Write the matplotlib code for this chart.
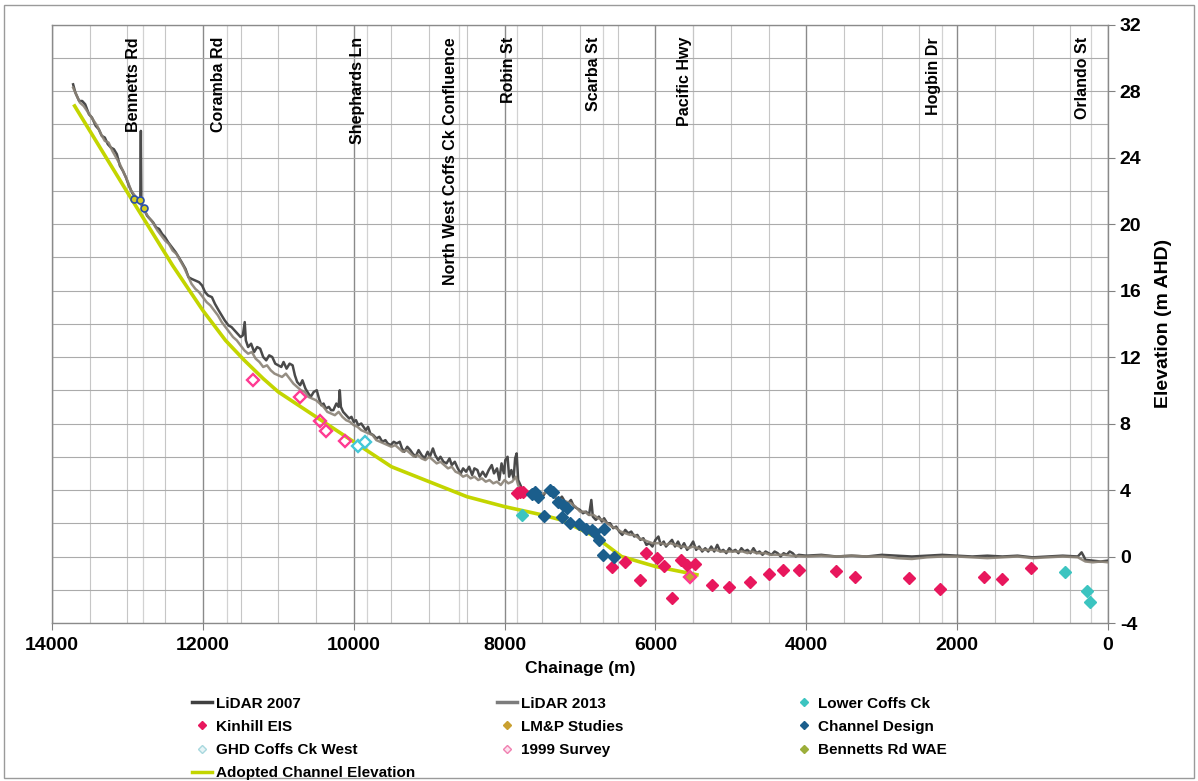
import matplotlib
matplotlib.use('Agg')
import matplotlib.pyplot as plt
from matplotlib.lines import Line2D
from matplotlib.patches import Rectangle
from matplotlib.ticker import MultipleLocator

plt.rcParams['font.family'] = ['Liberation Sans', 'DejaVu Sans']
plt.rcParams['axes.unicode_minus'] = False

# ------------------ DATA ------------------

# LiDAR 2007 long section (chainage m, elevation m AHD)
lidar07_ch = [13720, 13690, 13640, 13600, 13560, 13510, 13470, 13420, 13380, 13340,
              13300, 13260, 13220, 13180, 13140, 13100, 13060, 13020, 12980, 12940,
              12900, 12860, 12830, 12822, 12815, 12780, 12740, 12700, 12660, 12620,
              12580, 12540, 12500, 12460, 12410, 12360, 12320, 12280, 12230, 12190,
              12150, 12100, 12050, 12010, 11970, 11930, 11880, 11840, 11790, 11750,
              11710, 11660, 11620, 11580, 11540, 11500, 11470, 11445, 11430, 11400,
              11360, 11320, 11280, 11240, 11200, 11160, 11120, 11080, 11040, 11000,
              10960, 10930, 10890, 10850, 10810, 10780, 10750, 10710, 10680, 10640,
              10600, 10570, 10530, 10490, 10460, 10430, 10400, 10370, 10330, 10300,
              10270, 10230, 10200, 10185, 10170, 10140, 10100, 10060, 10030, 10000,
              9970, 9940, 9900, 9870, 9840, 9810, 9780, 9740, 9700, 9660,
              9620, 9580, 9550, 9510, 9470, 9430, 9390, 9360, 9330, 9290,
              9250, 9220, 9180, 9140, 9100, 9060, 9020, 8990, 8950, 8920,
              8880, 8850, 8810, 8770, 8730, 8700, 8660, 8620, 8580, 8550,
              8510, 8470, 8430, 8400, 8360, 8330, 8290, 8250, 8210, 8170,
              8140, 8100, 8070, 8040, 8010, 7990, 7960, 7940, 7910, 7880,
              7860, 7840, 7820, 7790, 7760, 7720, 7680, 7640, 7600, 7560,
              7520, 7480, 7440, 7400, 7360, 7320, 7280, 7240, 7200, 7160,
              7120, 7080, 7040, 7000, 6960, 6920, 6880, 6850, 6830, 6790,
              6750, 6710, 6680, 6640, 6600, 6560, 6520, 6480, 6440, 6400,
              6360, 6320, 6280, 6240, 6200, 6160, 6120, 6080, 6040, 6000,
              5960, 5930, 5890, 5860, 5820, 5780, 5740, 5700, 5660, 5620,
              5580, 5540, 5500, 5460, 5420, 5380, 5340, 5300, 5260, 5220,
              5180, 5140, 5100, 5060, 5020, 4980, 4940, 4900, 4860, 4820,
              4780, 4740, 4700, 4660, 4620, 4580, 4540, 4500, 4460, 4420,
              4380, 4340, 4300, 4260, 4220, 4180, 4140, 4100, 4000, 3800,
              3600, 3400, 3200, 3000, 2800, 2600, 2400, 2200, 2000, 1800,
              1600, 1400, 1200, 1000, 800, 600, 400, 350, 320, 300,
              200, 100, 0]
lidar07_el = [28.4, 27.9, 27.4, 27.4, 27.2, 26.6, 26.4, 25.9, 25.7, 25.3,
              25.2, 24.8, 24.6, 24.5, 24.2, 23.5, 23.2, 22.8, 22.3, 21.9,
              21.6, 21.4, 21.3, 25.6, 21.2, 20.9, 20.5, 20.3, 20.1, 19.8,
              19.7, 19.4, 19.2, 18.9, 18.6, 18.3, 18.0, 17.7, 17.3, 16.8,
              16.7, 16.6, 16.5, 16.3, 15.9, 15.7, 15.6, 15.2, 14.8, 14.5,
              14.2, 13.9, 13.8, 13.6, 13.4, 13.2, 13.3, 14.1, 13.0, 12.6,
              12.8, 12.3, 12.6, 12.5, 12.0, 11.8, 12.1, 12.0, 11.6, 11.5,
              11.4, 11.7, 11.3, 11.6, 11.5, 10.9, 10.5, 10.3, 10.6, 10.1,
              9.8, 9.6, 9.9, 10.0, 9.5, 9.1, 9.2, 8.9, 9.0, 8.8,
              8.8, 9.2, 9.0, 10.0, 9.0, 8.7, 8.5, 8.3, 8.4, 8.1,
              8.2, 7.9, 8.0, 7.8, 7.6, 7.8, 7.4, 7.3, 7.1, 7.2,
              6.9, 7.0, 6.8, 6.7, 6.9, 6.8, 6.9, 6.5, 6.3, 6.6,
              6.4, 6.2, 6.0, 6.4, 6.1, 5.9, 6.3, 6.0, 6.5, 6.1,
              5.8, 6.0, 5.7, 5.6, 5.9, 5.5, 5.7, 5.3, 5.0, 5.3,
              5.1, 5.4, 4.9, 5.3, 5.2, 4.8, 5.1, 4.8, 5.2, 5.5,
              5.0, 5.3, 4.6, 5.6, 5.0, 5.8, 6.0, 4.8, 5.2, 4.7,
              5.9, 6.2, 4.6, 4.3, 4.0, 3.9, 3.8, 4.0, 3.7, 3.9,
              3.6, 3.7, 4.0, 3.8, 3.9, 3.5, 3.4, 3.6, 3.3, 3.2,
              3.4, 3.0, 2.9, 2.8, 2.6, 2.7, 2.5, 3.4, 2.4, 2.2,
              2.4, 2.1, 2.3, 2.0, 2.0, 1.7, 1.8, 1.5, 1.3, 1.6,
              1.4, 1.5, 1.2, 1.3, 1.0, 1.1, 0.7, 0.8, 0.6, 1.0,
              1.2, 0.7, 0.9, 0.6, 0.8, 1.0, 0.6, 0.9, 0.5, 0.8,
              0.4, 0.6, 0.9, 0.4, 0.6, 0.3, 0.5, 0.3, 0.6, 0.3,
              0.7, 0.3, 0.4, 0.2, 0.5, 0.3, 0.4, 0.2, 0.5, 0.3,
              0.4, 0.2, 0.5, 0.2, 0.3, 0.1, 0.3, 0.2, 0.1, 0.3,
              0.2, 0.0, 0.2, 0.1, 0.3, 0.2, 0.0, 0.1, 0.05, 0.1,
              0.0, 0.05, 0.0, 0.1, 0.05, 0.0, 0.05, 0.1, 0.05, 0.0,
              0.05, 0.0, 0.05, -0.05, 0.0, 0.05, 0.0, 0.25, 0.0, -0.2,
              -0.25, -0.3, -0.25]

# LiDAR 2013 long section
lidar13_ch = [13720, 13680, 13630, 13580, 13520, 13460, 13400, 13350, 13300, 13250,
              13200, 13150, 13100, 13050, 13000, 12950, 12900, 12850, 12800, 12760,
              12720, 12680, 12640, 12600, 12550, 12500, 12450, 12400, 12350, 12300,
              12250, 12200, 12150, 12100, 12050, 12000, 11950, 11900, 11850, 11800,
              11750, 11700, 11650, 11600, 11550, 11500, 11450, 11400, 11350, 11300,
              11250, 11200, 11150, 11100, 11050, 11000, 10950, 10900, 10850, 10800,
              10750, 10700, 10650, 10600, 10550, 10500, 10450, 10400, 10350, 10300,
              10250, 10200, 10150, 10100, 10050, 10000, 9950, 9900, 9850, 9800,
              9750, 9700, 9650, 9600, 9550, 9500, 9450, 9400, 9350, 9300,
              9250, 9200, 9150, 9100, 9050, 9000, 8950, 8900, 8850, 8800,
              8750, 8700, 8650, 8600, 8550, 8500, 8450, 8400, 8350, 8300,
              8250, 8200, 8150, 8100, 8050, 8000, 7950, 7900, 7850, 7820,
              7780, 7720, 7660, 7600, 7540, 7480, 7420, 7360, 7300, 7240,
              7180, 7120, 7060, 7000, 6940, 6880, 6820, 6760, 6700, 6640,
              6580, 6520, 6460, 6400, 6340, 6280, 6220, 6160, 6100, 6040,
              5980, 5920, 5860, 5800, 5740, 5680, 5620, 5560, 5500, 5440,
              5380, 5320, 5260, 5200, 5140, 5080, 5020, 4960, 4900, 4840,
              4780, 4720, 4660, 4600, 4540, 4480, 4420, 4360, 4300, 4200,
              4000, 3800, 3600, 3400, 3200, 3000, 2800, 2600, 2400, 2200,
              2000, 1800, 1600, 1400, 1200, 1000, 800, 600, 400, 300,
              200, 100, 0]
lidar13_el = [28.2, 27.8, 27.3, 27.1, 26.7, 26.3, 25.9, 25.4, 25.0, 24.9,
              24.4, 24.0, 23.6, 23.1, 22.6, 22.0, 21.7, 21.4, 21.0, 20.7,
              20.4, 20.2, 19.9, 19.6, 19.3, 19.0, 18.8, 18.4, 18.2, 17.8,
              17.4, 16.9, 16.4, 16.1, 15.9, 15.6, 15.3, 15.1, 14.8, 14.5,
              14.1, 13.8, 13.5, 13.2, 13.0, 12.7, 12.4, 12.2, 12.3, 11.9,
              11.7, 11.4, 11.5, 11.2, 11.0, 10.9, 10.8, 11.0, 10.7, 10.4,
              10.2, 10.0, 9.9, 9.6, 9.5, 9.4, 9.2, 9.0, 8.7, 8.6,
              8.5, 8.7, 8.4, 8.2, 8.1, 7.9, 7.8, 7.6, 7.5, 7.4,
              7.3, 7.0, 6.9, 6.8, 6.7, 6.6, 6.7, 6.5, 6.3, 6.4,
              6.2, 6.0, 6.1, 5.9, 5.8, 6.0, 5.8, 5.6, 5.7, 5.5,
              5.3, 5.4, 5.1, 5.0, 4.8, 4.9, 4.7, 4.8, 4.6, 4.7,
              4.5, 4.6, 4.4, 4.5, 4.3, 4.6, 4.4, 4.5, 4.8, 4.3,
              4.0, 3.8, 3.9, 3.8, 3.7, 3.8, 3.9, 3.7, 3.5, 3.4,
              3.3, 3.2, 3.0, 2.7, 2.7, 2.5, 2.5, 2.3, 2.2, 2.0,
              1.8, 1.7, 1.5, 1.4, 1.3, 1.3, 1.1, 1.0, 0.9, 0.8,
              0.8, 0.8, 0.7, 0.8, 0.7, 0.6, 0.6, 0.5, 0.6, 0.5,
              0.4, 0.4, 0.4, 0.4, 0.3, 0.3, 0.3, 0.3, 0.3, 0.3,
              0.2, 0.3, 0.2, 0.2, 0.2, 0.1, 0.1, 0.1, 0.1, 0.05,
              0.0, 0.05, 0.0, 0.05, 0.0, 0.0, -0.1, -0.15, -0.05, 0.0,
              0.0, -0.05, -0.1, -0.05, 0.0, -0.1, -0.05, 0.0, -0.05, -0.3,
              -0.35, -0.3, -0.35]

# Adopted channel elevation
adopted_ch = [13700, 13000, 12400, 12000, 11700, 11450, 11200, 11000, 10500, 10000,
              9500, 9000, 8500, 8000, 7500, 7250, 6800, 6450, 6000, 5450]
adopted_el = [27.1, 21.9, 17.5, 14.8, 13.0, 11.8, 10.7, 9.9, 8.4, 6.9,
              5.4, 4.5, 3.6, 3.0, 2.5, 2.2, 1.2, 0.0, -0.6, -1.1]

# survey points
kinhill_ch = [7830, 7790, 7760, 6576, 6403, 6204, 6125, 5979, 5886, 5780,
              5661, 5581, 5475, 5250, 5025, 4746, 4494, 4309, 4090, 3606,
              3354, 2638, 2227, 1644, 1405, 1021]
kinhill_el = [3.8, 3.9, 3.85, -0.66, -0.36, -1.44, 0.24, -0.12, -0.6, -2.52,
              -0.24, -0.54, -0.48, -1.74, -1.86, -1.56, -1.08, -0.84, -0.84, -0.9,
              -1.26, -1.32, -1.98, -1.26, -1.38, -0.72]

lmp_ch = [5542]
lmp_el = [-1.26]

channel_ch = [7636, 7597, 7557, 7398, 7358, 7291, 7225, 7172, 7477, 7239,
              7133, 7013, 6920, 6841, 6814, 6682, 6748, 6695, 6549]
channel_el = [3.73, 3.85, 3.6, 4.03, 3.85, 3.3, 3.1, 2.9, 2.46, 2.4,
              2.04, 1.98, 1.68, 1.62, 1.5, 1.68, 1.02, 0.12, 0.0]

lower_coffs_ch = [7769, 570, 278, 239]
lower_coffs_el = [2.52, -0.96, -2.1, -2.76]

ghd_ch = [9943, 9850]
ghd_el = [6.67, 6.91]

survey99_ch = [11335, 10712, 10447, 10367, 10115, 5542]
survey99_el = [10.64, 9.6, 8.17, 7.57, 6.97, -1.26]

bennetts_ch = [12913, 12833, 12780]
bennetts_el = [21.5, 21.45, 20.97]

# road crossings
road_names = ['Bennetts Rd', 'Coramba Rd', 'Shephards Ln', 'North West Coffs Ck Confluence',
              'Robin St', 'Scarba St', 'Pacific Hwy', 'Hogbin Dr', 'Orlando St']
road_ch = [12800, 11680, 9830, 8600, 7840, 6700, 5500, 2200, 230]

# ------------------ PLOT ------------------

c_07 = '#4a4a4a'
c_13 = '#8a8276'
c_adopt = '#c3d500'
c_kin = '#e8175d'
c_lmp = '#c9a030'
c_chan = '#1b5e8c'
c_low = '#3cc4c0'
c_ghd = '#45c8d8'
c_99 = '#ff3a92'
c_benn = '#9cae3a'

fig = plt.figure(figsize=(11.98, 7.81), dpi=100)
ax = fig.add_axes([52 / 1198, 1 - 623 / 781, (1108 - 52) / 1198, (623 - 24.5) / 781])

ax.set_xlim(14000, 0)
ax.set_ylim(-4, 32)

# grid
ax.xaxis.set_major_locator(MultipleLocator(2000))
ax.xaxis.set_minor_locator(MultipleLocator(500))
ax.yaxis.set_major_locator(MultipleLocator(4))
ax.yaxis.set_minor_locator(MultipleLocator(2))
ax.grid(True, which='major', axis='x', color='#8a8a8a', lw=1.0)
ax.grid(True, which='minor', axis='x', color='#c6c6c6', lw=0.8)
ax.grid(True, which='both', axis='y', color='#ababab', lw=0.8)
ax.set_axisbelow(True)

for name, ch in zip(road_names, road_ch):
    ax.axvline(ch, color='#d2d2d2', lw=0.9, zorder=0.5)
    ax.text(ch + 15, 31.25, name, rotation=90, ha='right', va='top',
            fontsize=11.5, fontweight='bold', color='black')

ax.plot(lidar07_ch, lidar07_el, color=c_07, lw=1.8, zorder=3)
ax.plot(lidar13_ch, lidar13_el, color=c_13, lw=1.8, alpha=0.9, zorder=3)
ax.plot(adopted_ch, adopted_el, color=c_adopt, lw=2.6, zorder=4)

ms = 6
ax.plot(kinhill_ch, kinhill_el, 'D', color=c_kin, ms=ms, mec=c_kin, zorder=5, ls='none')
ax.plot(channel_ch, channel_el, 'D', color=c_chan, ms=ms, mec=c_chan, zorder=5, ls='none')
ax.plot(lower_coffs_ch, lower_coffs_el, 'D', color=c_low, ms=ms, mec=c_low, zorder=5, ls='none')
ax.plot(ghd_ch, ghd_el, 'D', mfc='white', mec=c_ghd, mew=1.7, ms=ms, zorder=5, ls='none')
ax.plot(lmp_ch, lmp_el, 'D', mfc=c_lmp, mec=c_lmp, ms=ms - 1, zorder=5, ls='none')
ax.plot(survey99_ch, survey99_el, 'D', mfc='none', mec=c_99, mew=1.7, ms=ms, zorder=6, ls='none')
ax.plot(bennetts_ch, bennetts_el, 'o', mfc='#d4cc20', mec='#2a4fa8', mew=1.2, ms=5, zorder=6, ls='none')

# axes styling
ax.yaxis.tick_right()
ax.yaxis.set_label_position('right')
ax.tick_params(axis='both', which='major', labelsize=14, length=5, color='#808080')
ax.tick_params(axis='x', which='major', pad=5)
ax.tick_params(axis='both', which='minor', length=0)
ax.set_xticks([14000, 12000, 10000, 8000, 6000, 4000, 2000, 0])
ax.set_xticklabels(['14000', '12000', '10000', '8000', '6000', '4000', '2000', '0'])
for lab in ax.get_xticklabels() + ax.get_yticklabels():
    lab.set_fontweight('bold')
ax.set_xlabel('Chainage (m)', fontsize=12.5, fontweight='bold', labelpad=5)
ax.set_ylabel('Elevation (m AHD)', fontsize=14, fontweight='bold', labelpad=10)
for sp in ax.spines.values():
    sp.set_color('#8a8a8a')
    sp.set_linewidth(1.0)

# legend: three columns placed separately like the original layout
h_07 = Line2D([], [], color='#404040', lw=2.5)
h_13 = Line2D([], [], color='#7c7c7c', lw=2.5)
h_low = Line2D([], [], marker='D', color=c_low, ls='none', ms=4)
h_kin = Line2D([], [], marker='D', color=c_kin, ls='none', ms=4)
h_lmp = Line2D([], [], marker='D', color=c_lmp, ls='none', ms=4)
h_chan = Line2D([], [], marker='D', color=c_chan, ls='none', ms=4)
h_ghd = Line2D([], [], marker='D', mfc='#e6f4f6', mec='#a8d8de', ls='none', ms=4)
h_99 = Line2D([], [], marker='D', mfc='#fde0ee', mec='#f080b0', ls='none', ms=4)
h_benn = Line2D([], [], marker='D', color=c_benn, ls='none', ms=4)
h_adopt = Line2D([], [], color=c_adopt, lw=2.5)

legend_cols = [
    (184, [h_07, h_kin, h_ghd, h_adopt],
     ['LiDAR 2007', 'Kinhill EIS', 'GHD Coffs Ck West', 'Adopted Channel Elevation']),
    (489, [h_13, h_lmp, h_99], ['LiDAR 2013', 'LM&P Studies', '1999 Survey']),
    (786, [h_low, h_chan, h_benn], ['Lower Coffs Ck', 'Channel Design', 'Bennetts Rd WAE']),
]
for x0, hs, ls_ in legend_cols:
    leg = fig.legend(hs, ls_, loc='upper left', bbox_to_anchor=(x0 / 1198, 1 - 689 / 781),
                     frameon=False, prop={'weight': 'bold', 'size': 11}, handlelength=1.3,
                     handletextpad=0.3, labelspacing=0.6, borderpad=0)

fig.patches.append(Rectangle((0.003, 0.004), 0.994, 0.99, transform=fig.transFigure,
                             fill=False, edgecolor='#9a9a9a', lw=1.0))

fig.savefig('out.png', dpi=100)
